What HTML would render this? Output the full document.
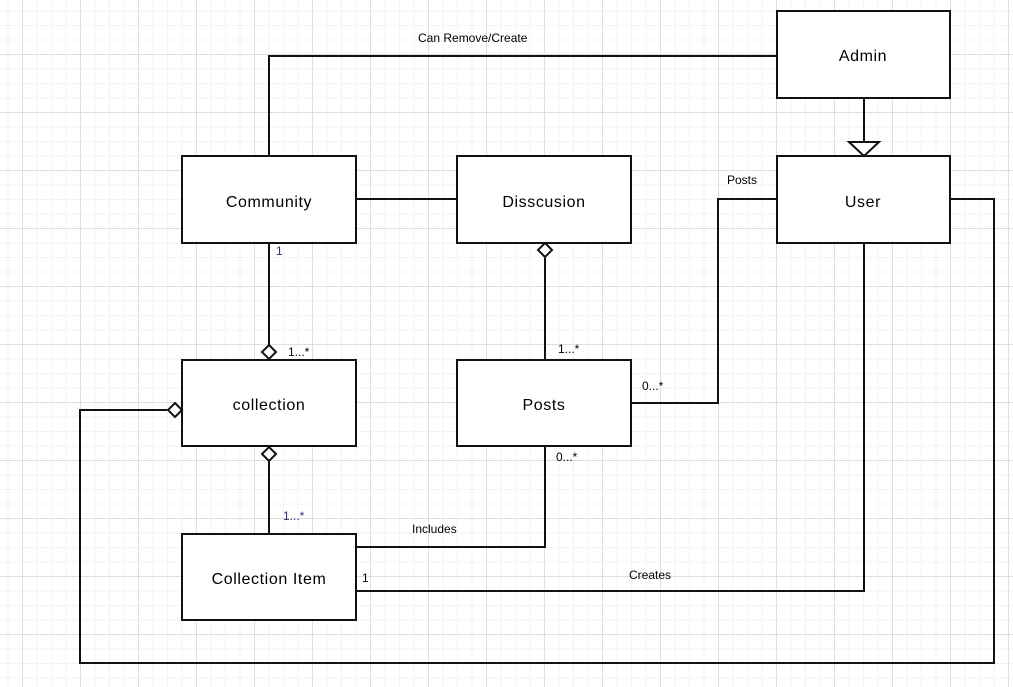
<!DOCTYPE html>
<html><head><style>
html,body{margin:0;padding:0;background:#fff;}
body{width:1013px;height:687px;overflow:hidden;
background-image:
linear-gradient(to right,#dedede 1px,transparent 1px),
linear-gradient(to bottom,#dedede 1px,transparent 1px),
linear-gradient(to right,#f3f3f3 1px,transparent 1px),
linear-gradient(to bottom,#f3f3f3 1px,transparent 1px);
background-size:58px 58px,58px 58px,14.5px 14.5px,14.5px 14.5px;
background-position:22px -4px,22px -4px,22px -4px,22px -4px;}
svg{position:absolute;left:0;top:0;}
text{font-family:"Liberation Sans",sans-serif;}
</style></head><body>
<svg width="1013" height="687" viewBox="0 0 1013 687">
<g fill="none" stroke="#111" stroke-width="2">
<polyline points="269,156 269,56 777,56"/>
<line x1="356" y1="199" x2="457" y2="199"/>
<line x1="864" y1="98" x2="864" y2="142"/>
<line x1="269" y1="243" x2="269" y2="345"/>
<line x1="545" y1="258" x2="545" y2="360"/>
<polyline points="631,403 718,403 718,199 777,199"/>
<line x1="269" y1="461" x2="269" y2="534"/>
<polyline points="356,547 545,547 545,446"/>
<polyline points="356,591 864,591 864,243"/>
<polyline points="950,199 994,199 994,663 80,663 80,410 167,410"/>
</g>
<g fill="#fff" stroke="#111" stroke-width="2">
<rect x="777" y="11" width="173" height="87"/>
<rect x="182" y="156" width="174" height="87"/>
<rect x="457" y="156" width="174" height="87"/>
<rect x="777" y="156" width="173" height="87"/>
<rect x="182" y="360" width="174" height="86"/>
<rect x="457" y="360" width="174" height="86"/>
<rect x="182" y="534" width="174" height="86"/>
<polygon points="849,142 879,142 864,156"/>
<polygon points="269,345 276,352 269,359 262,352"/>
<polygon points="545,243 552,250 545,257 538,250"/>
<polygon points="269,447 276,454 269,461 262,454"/>
<polygon points="168,410 175,403 182,410 175,417"/>
</g>
<g font-size="16" text-anchor="middle" fill="#000" letter-spacing="0.6">
<text x="863" y="61">Admin</text>
<text x="269" y="207">Community</text>
<text x="544" y="207">Disscusion</text>
<text x="863" y="207">User</text>
<text x="269" y="410">collection</text>
<text x="544" y="410">Posts</text>
<text x="269" y="584">Collection Item</text>
</g>
<g font-size="12" fill="#000">
<text x="418" y="42">Can Remove/Create</text>
<text x="727" y="184">Posts</text>
<text x="412" y="533">Includes</text>
<text x="629" y="579">Creates</text>
<text x="362" y="582">1</text>
<text x="276" y="255" fill="#3a2a7a">1</text>
<text x="288" y="356">1...*</text>
<text x="558" y="353">1...*</text>
<text x="642" y="390">0...*</text>
<text x="556" y="461">0...*</text>
<text x="283" y="520" fill="#3a2a7a">1...*</text>
</g>
</svg>
</body></html>
